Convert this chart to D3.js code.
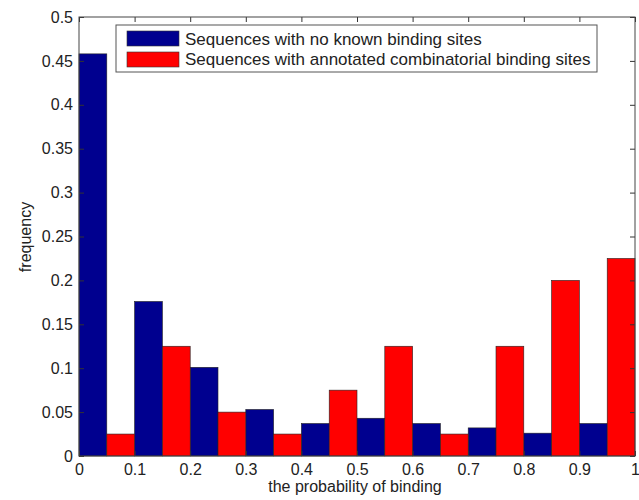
<!DOCTYPE html>
<html>
<head>
<meta charset="utf-8">
<script src="https://cdn.jsdelivr.net/npm/d3@7"></script>
<style>
  body { margin: 0; background: #fff; }
  svg text { font-family: "Liberation Sans", Arial, sans-serif; fill: #222; }
</style>
</head>
<body>
<div id="display"></div>
<script>
// bins of the histogram (left edge of each 0.1 wide bin)
var binStarts = [0, 0.1, 0.2, 0.3, 0.4, 0.5, 0.6, 0.7, 0.8, 0.9];
var noSites = [0.458, 0.176, 0.101, 0.053, 0.037, 0.043, 0.037, 0.032, 0.026, 0.037];
var combSites = [0.025, 0.125, 0.05, 0.025, 0.075, 0.125, 0.025, 0.125, 0.2, 0.225];
var seriesNames = ["Sequences with no known binding sites",
                   "Sequences with annotated combinatorial binding sites"];
var seriesColors = ["#00008f", "#ff0000"];
var xTicks = [0, 0.1, 0.2, 0.3, 0.4, 0.5, 0.6, 0.7, 0.8, 0.9, 1];
var yTicks = [0, 0.05, 0.1, 0.15, 0.2, 0.25, 0.3, 0.35, 0.4, 0.45, 0.5];

var margin = {top: 17, right: 4, bottom: 44, left: 79},
    width = 639 - margin.left - margin.right,
    height = 500 - margin.top - margin.bottom;

var svg = d3.select("#display").append("svg")
    .attr("width", 639).attr("height", 500);
var g = svg.append("g")
    .attr("transform", "translate(" + margin.left + "," + margin.top + ")");

var x = d3.scaleLinear().domain([0, 1]).range([0, width]);
var y = d3.scaleLinear().domain([0, 0.5]).range([height, 0]);

// bars: blue in left half of a bin, red in right half
var series = [noSites, combSites];
series.forEach(function(vals, s) {
  g.selectAll(".bar" + s)
    .data(vals)
    .enter().append("rect")
      .attr("x", function(d, i) { return x(binStarts[i] + s * 0.05); })
      .attr("width", x(0.05) - x(0))
      .attr("y", function(d) { return y(d); })
      .attr("height", function(d) { return y(0) - y(d); })
      .attr("fill", seriesColors[s])
      .attr("stroke", "#222")
      .attr("stroke-width", 0.6);
});

// axes, ticks pointing inward on all four sides
function styleAxis(sel) {
  sel.select(".domain").remove();
  sel.selectAll("line").attr("stroke", "#333");
  sel.selectAll("text").style("font-size", "16px").attr("fill", "#222");
}
g.append("g").attr("transform", "translate(0," + height + ")")
  .call(d3.axisBottom(x).tickValues(xTicks).tickFormat(d3.format("")).tickSizeInner(-5).tickPadding(8))
  .call(styleAxis);
g.append("g")
  .call(d3.axisTop(x).tickValues(xTicks).tickSizeInner(-5).tickFormat(""))
  .call(styleAxis);
g.append("g")
  .call(d3.axisLeft(y).tickValues(yTicks).tickFormat(d3.format("")).tickSizeInner(-5).tickPadding(6))
  .call(styleAxis);
g.append("g").attr("transform", "translate(" + width + ",0)")
  .call(d3.axisRight(y).tickValues(yTicks).tickSizeInner(-5).tickFormat(""))
  .call(styleAxis);

g.append("rect")
  .attr("width", width).attr("height", height)
  .attr("fill", "none").attr("stroke", "#444").attr("stroke-width", 1);

// axis labels
svg.append("text")
  .attr("x", 355).attr("y", 492)
  .attr("text-anchor", "middle").style("font-size", "16px")
  .text("the probability of binding");
svg.append("text")
  .attr("transform", "translate(31,237) rotate(-90)")
  .attr("text-anchor", "middle").style("font-size", "16px")
  .text("frequency");

// legend
var leg = svg.append("g").attr("transform", "translate(116,25)");
leg.append("rect")
  .attr("width", 481).attr("height", 47)
  .attr("fill", "#fff").attr("stroke", "#555").attr("stroke-width", 1);
seriesNames.forEach(function(name, i) {
  leg.append("rect")
    .attr("x", 11).attr("y", 6 + i * 21)
    .attr("width", 52).attr("height", 15)
    .attr("fill", seriesColors[i]).attr("stroke", "#333").attr("stroke-width", 0.6);
  leg.append("text")
    .attr("x", 69).attr("y", 20 + i * 20)
    .style("font-size", "17px")
    .text(name);
});
</script>
</body>
</html>
